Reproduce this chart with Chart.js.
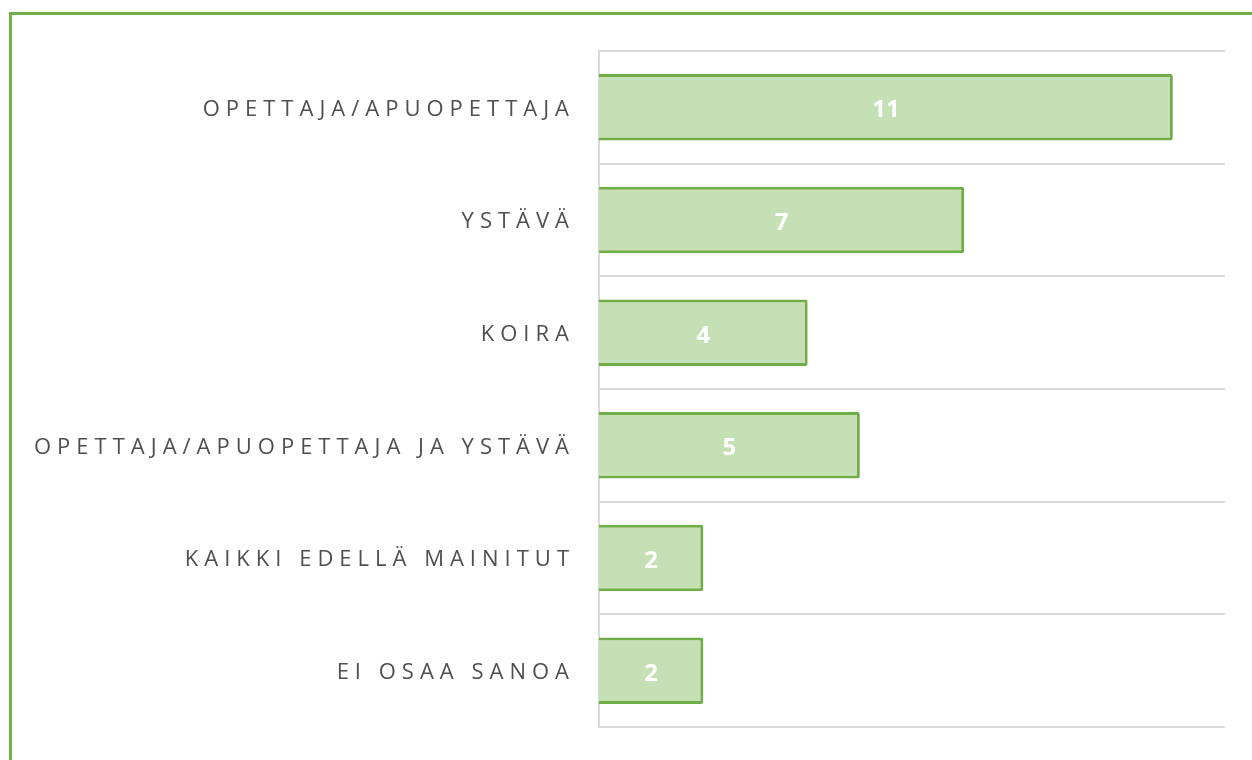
<!DOCTYPE html>
<html>
<head>
<meta charset="utf-8">
<script src="https://cdn.jsdelivr.net/npm/chart.js@4/dist/chart.umd.min.js"></script>
<style>
  html, body { margin: 0; padding: 0; background: #fff; overflow: hidden; }
  #wrap { position: relative; width: 1252px; height: 760px; }
  #frame { position: absolute; left: 9px; top: 12px; width: 1300px; height: 800px;
           border: 3px solid #70ad47; box-sizing: border-box; }
  #chart_box { position: absolute; left: 0; top: 0; }
</style>
</head>
<body>
<div id="wrap">
  <div id="frame"></div>
  <canvas id="chart_box" width="1252" height="760"></canvas>
</div>
<script>
var categories = ["OPETTAJA/APUOPETTAJA", "YSTÄVÄ", "KOIRA",
                  "OPETTAJA/APUOPETTAJA JA YSTÄVÄ", "KAIKKI EDELLÄ MAINITUT", "EI OSAA SANOA"];
var counts = [11, 7, 4, 5, 2, 2];
var xMax = 12;

// letter spaced axis labels, plain numbers inside the bars
var spacingPlugin = {
    id: 'spacing',
    beforeDraw: function (chart) { chart.ctx.letterSpacing = '6px'; },
    beforeDatasetsDraw: function (chart) { chart.ctx.letterSpacing = '0px'; },
    afterDatasetsDraw: function (chart) {
        var ctx = chart.ctx;
        var meta = chart.getDatasetMeta(0);
        ctx.save();
        ctx.fillStyle = '#ffffff';
        ctx.font = 'bold 24px "Open Sans"';
        ctx.textAlign = 'center';
        ctx.textBaseline = 'middle';
        meta.data.forEach(function (bar, i) {
            ctx.fillText(String(counts[i]), (bar.x + bar.base) / 2, bar.y + 3);
        });
        ctx.restore();
    }
};

var ctx = document.getElementById('chart_box').getContext('2d');
var chart = new Chart(ctx, {
    type: 'bar',
    data: {
        labels: categories,
        datasets: [{
            data: counts,
            backgroundColor: '#c5e0b4',
            borderColor: '#70ad47',
            borderWidth: 3,
            borderRadius: 2,
            borderSkipped: 'start',
            categoryPercentage: 1,
            barPercentage: 0.59
        }]
    },
    options: {
        indexAxis: 'y',
        responsive: false,
        animation: false,
        layout: { padding: { left: 0, right: 27, top: 51, bottom: 33 } },
        plugins: { legend: { display: false }, tooltip: { enabled: false } },
        scales: {
            x: {
                min: 0,
                max: xMax,
                display: false
            },
            y: {
                afterFit: function (scale) {
                    scale.width = 599;
                    scale.paddingTop = 0;
                    scale.paddingBottom = 0;
                },
                grid: { offset: true, color: '#d9d9d9', lineWidth: 2, drawTicks: false },
                border: { color: '#d9d9d9', width: 2 },
                ticks: {
                    color: '#4f4f4f',
                    padding: 24,
                    labelOffset: 2,
                    font: { family: '"Open Sans"', size: 22 }
                }
            }
        }
    },
    plugins: [spacingPlugin]
});
</script>
</body>
</html>
